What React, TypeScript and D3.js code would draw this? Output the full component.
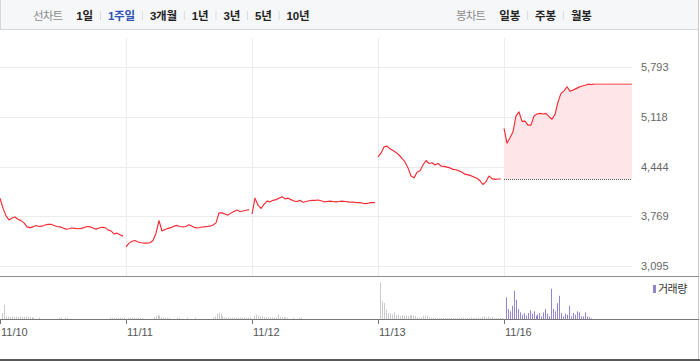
import { useEffect, useRef } from 'react'
import * as d3 from 'd3'

// 기간 메뉴 / 봉차트 메뉴
const periodTitle = '선차트'
const periodMenu = ['1일', '1주일', '3개월', '1년', '3년', '5년', '10년']
const selectedPeriod = '1주일'
const candleTitle = '봉차트'
const candleMenu = ['일봉', '주봉', '월봉']

const dayLabels = ['11/10', '11/11', '11/12', '11/13', '11/16']
const yTicks = [3095, 3769, 4444, 5118, 5793]
const volumeLabel = '거래량'

// price, sampled evenly through each session (42 steps per full day)
const priceDay1 = [4015, 3880, 3775, 3720, 3745, 3760, 3730, 3710, 3680, 3625, 3615, 3625, 3645, 3630, 3635, 3650, 3660, 3660, 3645, 3630, 3625, 3610, 3595, 3600, 3610, 3605, 3600, 3605, 3615, 3630, 3625, 3610, 3595, 3610, 3620, 3615, 3585, 3570, 3530, 3540, 3520, 3500]
const priceDay2 = [3355, 3405, 3430, 3440, 3420, 3410, 3405, 3405, 3410, 3440, 3540, 3710, 3570, 3590, 3605, 3615, 3635, 3645, 3630, 3625, 3630, 3655, 3635, 3615, 3610, 3620, 3625, 3630, 3635, 3650, 3680, 3815, 3815, 3800, 3785, 3815, 3835, 3855, 3835, 3840, 3850, 3860]
const priceDay3 = [3800, 4015, 3920, 3875, 3930, 3975, 3965, 3985, 3995, 4015, 4035, 4005, 4015, 3995, 3975, 3970, 3985, 3960, 3970, 3980, 3985, 3985, 3990, 3980, 3965, 3970, 3975, 3970, 3965, 3970, 3975, 3970, 3965, 3960, 3960, 3955, 3955, 3945, 3940, 3950, 3955, 3955]
const priceDay4 = [4575, 4625, 4710, 4720, 4685, 4660, 4635, 4600, 4555, 4505, 4425, 4315, 4290, 4365, 4385, 4465, 4525, 4485, 4495, 4465, 4485, 4450, 4445, 4435, 4425, 4405, 4400, 4385, 4365, 4340, 4330, 4320, 4300, 4285, 4250, 4200, 4240, 4315, 4280, 4270, 4275, 4275]
const priceDay5 = [4960, 4760, 4835, 4915, 5130, 5185, 5055, 5060, 5005, 5005, 5130, 5155, 5165, 5155, 5165, 5120, 5085, 5150, 5320, 5435, 5470, 5525, 5465, 5480, 5500, 5520, 5535, 5545, 5560, 5555, 5560]
const prices = [priceDay1, priceDay2, priceDay3, priceDay4, priceDay5]
const stepsPerDay = 42

// volume (천주), 64 slots per day
const volDay1 = [180, 430, 80, 70, 60, 80, 60, 70, 60, 80, 60, 70, 80, 60, 60, 50, 40, 0, 0, 50, 0, 0, 0, 0, 0, 0, 0, 0, 0, 40, 40, 0, 40, 40, 0, 0, 0, 0, 0, 0, 0, 0, 0, 0, 0, 0, 0, 0, 0, 0, 0, 0, 0, 0, 0, 40, 40, 40, 30, 40, 40, 40, 40]
const volDay2 = [40, 40, 40, 40, 30, 40, 30, 30, 0, 0, 0, 0, 0, 60, 90, 130, 100, 60, 40, 40, 40, 30, 0, 0, 0, 40, 40, 0, 0, 0, 40, 0, 0, 0, 40, 0, 0, 0, 0, 0, 0, 0, 0, 45, 80, 160, 200, 160, 80, 45, 40, 50, 40, 45, 40, 45, 40, 45, 40, 50, 40, 45, 45]
const volDay3 = [100, 130, 100, 80, 80, 60, 50, 50, 50, 50, 40, 50, 130, 60, 60, 60, 50, 40, 0, 0, 40, 0, 0, 40, 40]
const volDay4 = [1100, 530, 480, 280, 180, 160, 140, 200, 120, 130, 90, 120, 90, 100, 90, 120, 105, 120, 90, 45, 45, 45, 90, 90, 90, 45, 45, 45, 30, 30, 30, 30, 30, 30, 30, 30, 30, 30, 30, 30, 30, 45, 45, 30, 30, 30, 45, 30, 30, 30, 45, 30, 60, 75, 45, 75, 45, 60, 30, 30, 30, 30, 30]
const volDay5 = [650, 300, 230, 400, 850, 580, 300, 200, 130, 180, 100, 180, 260, 160, 230, 100, 130, 180, 80, 200, 300, 160, 80, 910, 300, 230, 480, 700, 180, 80, 160, 130, 400, 80, 180, 130, 230, 200, 80, 80, 200, 80, 50, 20]
const volumes = [volDay1, volDay2, volDay3, volDay4, volDay5]
const slotsPerDay = 64

const W = 700
const H = 362
const LATIN = '"Liberation Sans", Arial, sans-serif'
const KR = '"Liberation Sans", "Noto Sans CJK KR", sans-serif'

export default function App() {
  const svgRef = useRef<SVGSVGElement>(null)

  useEffect(() => {
    if (!svgRef.current) return
    const svg = d3.select(svgRef.current)
    svg.selectAll('*').remove()

    const plot = { left: 0, right: 630, top: 38, bottom: 276 }
    const plotEnd = plot.right + 2
    const vol = { top: 277, bottom: 319 }

    // ---- header bar
    svg.append('rect').attr('x', 0).attr('y', 0).attr('width', W - 1).attr('height', 30).attr('fill', '#f6f7f9')
    svg.append('line').attr('x1', 0.5).attr('x2', 0.5).attr('y1', 0).attr('y2', 30).attr('stroke', '#d5d7da')
    svg.append('line').attr('x1', 0).attr('x2', W - 1).attr('y1', 29.5).attr('y2', 29.5).attr('stroke', '#d5d7da')

    const menu = (title: string, items: string[], startX: number, selected: string | null) => {
      const g = svg.append('g').style('font-family', KR).style('font-size', '11.5px')
      const t = g.append('text').attr('x', startX).attr('y', 19.5).attr('fill', '#8c8c8c')
        .style('letter-spacing', '-0.8px').text(title)
      let x = startX + (t.node() as SVGTextElement).getComputedTextLength() + 14
      items.forEach((label, i) => {
        const it = g.append('text').attr('x', x).attr('y', 19.5)
          .attr('fill', label === selected ? '#2f52b4' : '#222')
          .style('font-weight', 'bold').style('letter-spacing', '-0.2px').text(label)
        const end = x + (it.node() as SVGTextElement).getComputedTextLength()
        if (i < items.length - 1) {
          g.append('line').attr('x1', end + 7.5).attr('x2', end + 7.5).attr('y1', 11).attr('y2', 20)
            .attr('stroke', '#dcdcdc')
        }
        x = end + 15
      })
    }
    menu(periodTitle, periodMenu, 33, selectedPeriod)
    menu(candleTitle, candleMenu, 456, null)

    // ---- frame
    svg.append('line').attr('x1', W - 1.5).attr('x2', W - 1.5).attr('y1', 0).attr('y2', 361).attr('stroke', '#c8c8c8')

    const xScale = d3.scaleLinear().domain([0, dayLabels.length]).range([plot.left, plot.right])
    const yScale = d3.scaleLinear().domain([yTicks[0], yTicks[yTicks.length - 1]]).range([266, 67])

    // grid
    const grid = svg.append('g')
    yTicks.forEach(v => {
      grid.append('line').attr('x1', 0).attr('x2', plotEnd)
        .attr('y1', Math.round(yScale(v)) + 0.5).attr('y2', Math.round(yScale(v)) + 0.5)
        .attr('stroke', '#ececec')
    })
    dayLabels.forEach((_, d) => {
      if (d === 0) return
      grid.append('line').attr('x1', Math.round(xScale(d)) + 0.5).attr('x2', Math.round(xScale(d)) + 0.5)
        .attr('y1', plot.top).attr('y2', plot.bottom).attr('stroke', '#ececec')
    })

    // y labels
    svg.append('g').selectAll('text').data(yTicks).enter().append('text')
      .attr('x', 641).attr('y', d => yScale(d) + 4)
      .style('font-family', LATIN).style('font-size', '11px').attr('fill', '#666')
      .text(d => d3.format(',')(d))

    // today's fill against previous close
    const today = prices.length - 1
    const prevClose = prices[today - 1][prices[today - 1].length - 1]
    const todayPts: [number, number][] = prices[today].map((v, j) => [xScale(today + j / stepsPerDay), yScale(v)])
    const lastVal = prices[today][prices[today].length - 1]
    const ext: [number, number][] = [...todayPts, [plotEnd, yScale(lastVal)]]
    svg.append('path')
      .attr('d', d3.area<[number, number]>().x(d => d[0]).y0(yScale(prevClose)).y1(d => d[1])(ext) || '')
      .attr('fill', '#fde5e8')
    svg.append('line').attr('x1', xScale(today)).attr('x2', plotEnd)
      .attr('y1', Math.round(yScale(prevClose)) + 0.5).attr('y2', Math.round(yScale(prevClose)) + 0.5)
      .attr('stroke', '#555').attr('stroke-dasharray', '1,1')
    svg.append('line').attr('x1', todayPts[todayPts.length - 1][0]).attr('x2', plotEnd)
      .attr('y1', yScale(lastVal)).attr('y2', yScale(lastVal))
      .attr('stroke', '#ff8080').attr('stroke-width', 1.6)

    // price lines, one per session
    const line = d3.line<number>()
    prices.forEach((arr, d) => {
      line.x((_, j) => xScale(d + j / stepsPerDay)).y(v => yScale(v))
      svg.append('path').attr('d', line(arr) || '')
        .attr('fill', 'none').attr('stroke', '#f42b34').attr('stroke-width', 1.15)
        .attr('stroke-linejoin', 'round')
    })

    // plot bottom
    svg.append('line').attr('x1', 0).attr('x2', W - 1).attr('y1', plot.bottom + 0.5).attr('y2', plot.bottom + 0.5)
      .attr('stroke', '#8d8d8d')

    // ---- volume
    const vMax = d3.max(volumes.flat()) || 1
    const vScale = d3.scaleLinear().domain([0, vMax]).range([vol.bottom, vol.bottom - 36.5])
    volumes.forEach((arr, d) => {
      svg.append('g').selectAll('rect').data(arr).enter().append('rect')
        .attr('x', (_, k) => Math.round(xScale(d + (k + 1) / slotsPerDay)))
        .attr('width', 1)
        .attr('y', v => vScale(v))
        .attr('height', v => vol.bottom - vScale(v))
        .attr('fill', d === today ? '#9483cf' : '#c9cbce')
    })
    svg.append('line').attr('x1', 0).attr('x2', W - 1).attr('y1', vol.bottom + 0.5).attr('y2', vol.bottom + 0.5)
      .attr('stroke', '#777')

    // legend
    svg.append('rect').attr('x', 653).attr('y', 285).attr('width', 3).attr('height', 8).attr('fill', '#9483cf')
    svg.append('text').attr('x', 658).attr('y', 293).style('font-family', KR).style('font-size', '11px')
      .attr('fill', '#333').style('letter-spacing', '-0.5px').text(volumeLabel)

    // date axis
    const axis = svg.append('g')
    dayLabels.forEach((lab, d) => {
      const x = Math.round(xScale(d)) + 0.5
      axis.append('line').attr('x1', x).attr('x2', x).attr('y1', vol.bottom).attr('y2', vol.bottom + 5)
        .attr('stroke', '#777')
      axis.append('text').attr('x', x + 0.5).attr('y', 336).style('font-family', LATIN).style('font-size', '11px')
        .attr('fill', '#555').text(lab)
    })

    svg.append('rect').attr('x', 0).attr('y', 359).attr('width', W).attr('height', 2).attr('fill', '#5a5a5a')
  }, [])

  return (
    <svg ref={svgRef} width={W} height={H} style={{ position: 'absolute', left: 0, top: 0, background: '#fff' }} />
  )
}
